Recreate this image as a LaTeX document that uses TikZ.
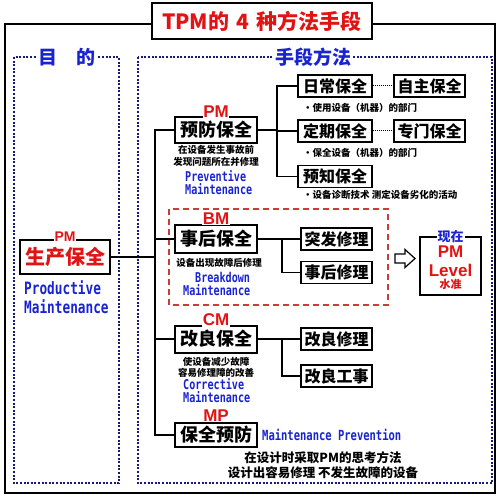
\documentclass[tikz,border=0pt]{standalone}
\usepackage{fontspec}
\setmainfont{Liberation Sans}
\newfontfamily\cjk{Noto Sans CJK SC}
\newfontfamily\mono[FakeStretch=0.75]{DejaVu Sans Mono}
\definecolor{myred}{RGB}{225,20,20}
\definecolor{myblue}{RGB}{25,35,210}
\definecolor{navy}{RGB}{25,25,120}
\definecolor{dashred}{RGB}{200,60,60}
\tikzset{
 bx/.style={draw, line width=2pt, fill=white, inner sep=0pt, font=\cjk\bfseries\fontsize{18}{18}\selectfont},
 mainbx/.style={bx, minimum width=82pt, minimum height=27pt},
 subbx/.style={bx, line width=1.8pt, minimum width=71pt, minimum height=22pt, font=\cjk\bfseries\fontsize{16}{16}\selectfont},
 tag/.style={fill=white, inner sep=0.5pt, text=myred, font=\bfseries\fontsize{17}{17}\selectfont},
 desc/.style={font=\cjk\bfseries\fontsize{9.5}{10}\selectfont, inner sep=0pt},
 eng/.style={text=myblue, font=\mono\bfseries\fontsize{13.5}{14}\selectfont, inner sep=0pt, anchor=west},
 conn/.style={line width=1.5pt},
 blued/.style={draw=navy, line width=2pt, dash pattern=on 2pt off 1.6pt},
 reddash/.style={draw=dashred, line width=1.5pt, dash pattern=on 6pt off 4pt},
 hdr/.style={fill=white, inner sep=2pt, text=myblue, font=\cjk\bfseries\fontsize{19}{19}\selectfont},
}
\begin{document}
\begin{tikzpicture}[x=1pt,y=-1pt]
\path[use as bounding box, fill=white] (0,0) rectangle (500,497);
% outer frame
\draw[line width=1.5pt] (5,24) rectangle (495,493);
\node[draw, line width=1.5pt, fill=white, minimum width=220pt, minimum height=36pt, inner sep=0pt, text=myred, font=\cjk\bfseries\fontsize{21}{21}\selectfont] (title) at (262,21) {TPM的\hspace{0.35em}4\hspace{0.35em}种方法手段};
% dotted frames
\draw[blued] (14,57) rectangle (119,483);
\draw[blued] (138,57) rectangle (492,483);
\node[hdr] (goal) at (67,57) {目　的};
\node[hdr] (means) at (313,57) {手段方法};
% red dashed frame
\draw[reddash] (169,209) rectangle (388,305);
% buses
\coordinate (busA) at (155,0);
\coordinate (busB) at (277,0);
\coordinate (busC) at (282,0);
% PM main
\node[bx, minimum width=90pt, minimum height=34pt, text=myred, font=\cjk\bfseries\fontsize{20}{20}\selectfont] (pm) at (65,257) {生产保全};
\node[tag, font=\bfseries\fontsize{14}{14}\selectfont] (pmtag) at (65,237) {PM};
\node[eng, font=\mono\bfseries\fontsize{17}{17}\selectfont] (prod) at (24,288) {Productive};
\node[eng, font=\mono\bfseries\fontsize{17}{17}\selectfont] (prodm) at (24,307) {Maintenance};
% preventive
\node[mainbx, minimum height=26pt] (yf) at (216,130) {预防保全};
\node[tag] (yftag) at (216,112) {PM};
\node[desc] (yfd1) at (216,150) {在设备发生事故前};
\node[desc] (yfd2) at (216,162) {发现问题所在并修理};
\node[eng] (yfe1) at (185,176) {Preventive};
\node[eng] (yfe2) at (185,189) {Maintenance};
\node[subbx, minimum width=74pt] (rc) at (335,86) {日常保全};
\node[subbx] (zz) at (429.5,86) {自主保全};
\node[desc, anchor=west] (rcd) at (303,108) {・使用设备（机器）的部门};
\node[subbx, minimum width=74pt] (dq) at (335,131) {定期保全};
\node[subbx] (zm) at (429.5,131) {专门保全};
\node[desc, anchor=west] (dqd) at (303,153) {・保全设备（机器）的部门};
\node[subbx, minimum width=74pt] (yz) at (335,176.5) {预知保全};
\node[desc, anchor=west] (yzd) at (303,195) {・设备诊断技术 测定设备劣化的活动};
% breakdown
\node[mainbx, minimum height=28pt] (bmb) at (216,239) {事后保全};
\node[tag] (bmtag) at (216,219) {BM};
\node[desc] (bmd) at (219,263) {设备出现故障后修理};
\node[eng] (bme1) at (195,277) {Breakdown};
\node[eng] (bme2) at (183,290) {Maintenance};
\node[subbx] (tf) at (336.5,239) {突发修理};
\node[subbx] (sh) at (336.5,272.5) {事后修理};
% arrow and level
\draw[line width=1.2pt, fill=white] (395,254) -- (405,254) -- (405,249.5) -- (415,258.5) -- (405,267.5) -- (405,263) -- (395,263) -- cycle;
\node[draw, line width=1.8pt, minimum width=61pt, minimum height=58pt, inner sep=0pt] (lv) at (450.5,266) {};
\node[fill=white, inner sep=1pt, text=myblue, font=\cjk\bfseries\fontsize{13}{13}\selectfont] (lvtag) at (450.5,237) {现在};
\node[text=myred, inner sep=0pt, font=\bfseries\fontsize{17}{17}\selectfont] (lvpm) at (450.5,252) {PM};
\node[text=myred, inner sep=0pt, font=\bfseries\fontsize{17}{17}\selectfont] (lvlevel) at (450.5,270) {Level};
\node[text=myred, inner sep=0pt, font=\cjk\bfseries\fontsize{11}{11}\selectfont] (lvsz) at (450.5,284) {水准};
% corrective
\node[mainbx] (cmb) at (216,339) {改良保全};
\node[tag] (cmtag) at (216,320) {CM};
\node[desc] (cmd1) at (216,362) {使设备减少故障};
\node[desc] (cmd2) at (216,372.5) {容易修理障的改善};
\node[eng] (cme1) at (183,384) {Corrective};
\node[eng] (cme2) at (183,397) {Maintenance};
\node[subbx] (gx) at (336.5,339) {改良修理};
\node[subbx] (gs) at (336.5,376) {改良工事};
% prevention
\node[mainbx, minimum height=24pt] (mpb) at (216,435) {保全预防};
\node[tag] (mptag) at (216,416) {MP};
\node[eng, font=\mono\bfseries\fontsize{14}{14}\selectfont] (mpe) at (262,435) {Maintenance Prevention};
\node[font=\cjk\bfseries\fontsize{12.5}{13}\selectfont, inner sep=0pt] (bot1) at (323,458) {在设计时采取PM的思考方法};
\node[font=\cjk\bfseries\fontsize{12.5}{13}\selectfont, inner sep=0pt] (bot2) at (323,473) {设计出容易修理 不发生故障的设备};
% connectors
\draw[conn] (pm.east) -- (pm.east -| busA);
\draw[conn] (yf.west) -- (yf.west -| busA) -- (mpb.west -| busA) -- (mpb.west);
\draw[conn] (bmb.west) -- (bmb.west -| busA);
\draw[conn] (cmb.west) -- (cmb.west -| busA);
\draw[conn] (yf.east) -- (yf.east -| busB);
\draw[conn] (rc.west) -- (rc.west -| busB) -- (yz.west -| busB) -- (yz.west);
\draw[conn] (dq.west) -- (dq.west -| busB);
\draw[line width=1pt, densely dotted] (rc.east) -- (zz.west);
\draw[line width=1pt, densely dotted] (dq.east) -- (zm.west);
\draw[conn] (bmb.east) -- (bmb.east -| busC);
\draw[conn] (tf.west) -- (tf.west -| busC) -- (sh.west -| busC) -- (sh.west);
\draw[conn] (cmb.east) -- (cmb.east -| busC);
\draw[conn] (gx.west) -- (gx.west -| busC) -- (gs.west -| busC) -- (gs.west);
\end{tikzpicture}
\end{document}
